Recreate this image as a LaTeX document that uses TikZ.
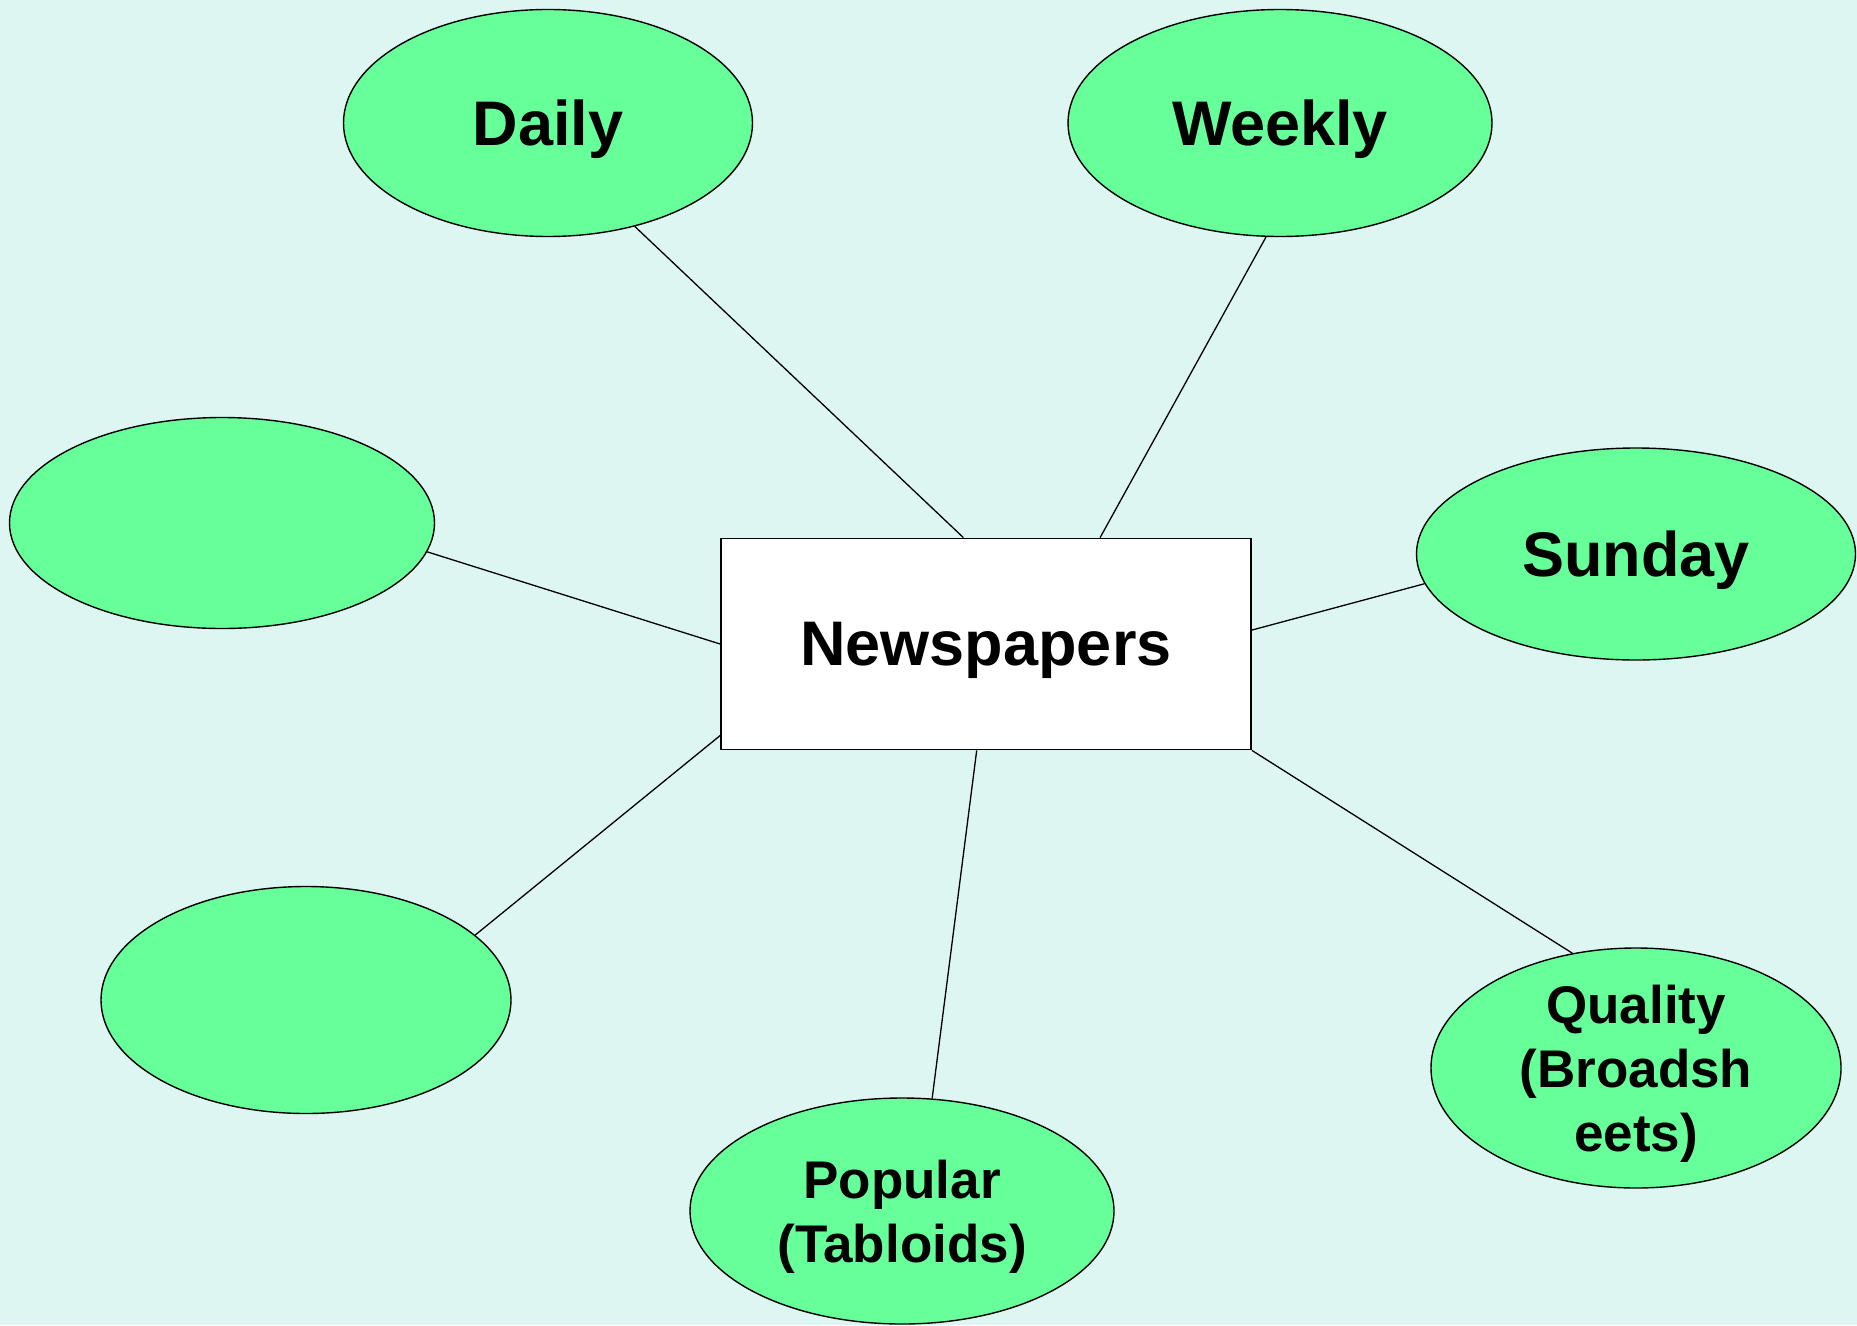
\documentclass[tikz,border=0pt]{standalone}
\usepackage{fontspec}
\setmainfont{Liberation Sans}
\usetikzlibrary{shapes.geometric}
\definecolor{mintbg}{HTML}{DDF6F1}
\definecolor{bubble}{HTML}{66FF99}
\begin{document}
\begin{tikzpicture}[x=1pt, y=-1pt]

\tikzstyle{bigtext}=[font=\fontsize{63}{75}\selectfont\bfseries, text depth=0pt]
\tikzstyle{smalltext}=[font=\fontsize{53}{64}\selectfont\bfseries, align=center, text depth=0pt]
\tikzstyle{bubble}=[ellipse, draw, fill=bubble, line width=1.4pt, inner sep=0pt]
\tikzstyle{topic}=[rectangle, draw, fill=white, line width=1.8pt, minimum width=530pt, minimum height=211pt, inner sep=0pt]
\tikzstyle{link}=[line width=1.3pt]

\fill [mintbg] (0,0) rectangle (1857,1325);
\useasboundingbox (0,0) rectangle (1857,1325);

\node (news) [topic, bigtext] at (986,644) {Newspapers};

\node (daily) [bubble, bigtext, minimum width=409pt, minimum height=227pt] at (548,123) {Daily};
\node (weekly) [bubble, bigtext, minimum width=424pt, minimum height=227pt] at (1280,123) {Weekly};
\node (left) [bubble, minimum width=425pt, minimum height=211pt] at (222,523) {};
\node (sunday) [bubble, bigtext, minimum width=439pt, minimum height=212pt] at (1636,554) {Sunday};
\node (lowleft) [bubble, minimum width=410pt, minimum height=227pt] at (306,1000) {};
\node (popular) [bubble, smalltext, minimum width=424pt, minimum height=226pt] at (902,1211) {Popular\\(Tabloids)};
\node (quality) [bubble, smalltext, minimum width=410pt, minimum height=240pt] at (1636,1068) {Quality\\(Broadsh\\eets)};

\draw [link] (daily.-50) -- (news.102);
\draw [link] (weekly.-97) -- (news.43);
\draw [link] (left.-8) -- (news.west);
\draw [link] (sunday.188) -- (news.3.3);
\draw [link] (lowleft.21) -- (news.199);
\draw [link] (popular.75) -- (news.265.8);
\draw [link] (quality.119) -- (news.south east);

\end{tikzpicture}
\end{document}
